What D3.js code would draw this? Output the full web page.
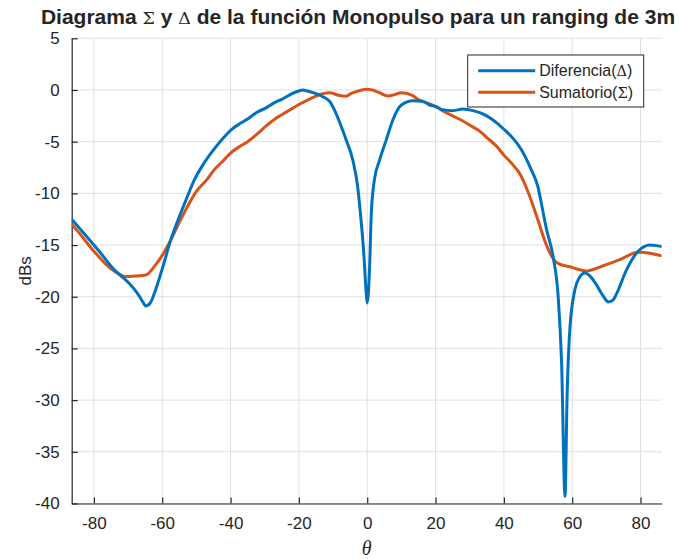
<!DOCTYPE html>
<html lang="es">
<head>
<meta charset="UTF-8">
<title>Diagrama Σ y Δ - Monopulso</title>
<script src="https://d3js.org/d3.v7.min.js"></script>
<style>
  body { margin: 0; background: #fff; overflow: hidden; }
  text { font-family: "Liberation Sans", Arial, Helvetica, sans-serif; fill: #262626; }
</style>
</head>
<body>
<script>
// Diferencia (Δ): ángulo en grados y nivel en dB
const thetaDelta = [-86.5, -84.4, -80, -77, -74.6, -72, -69.7, -67, -65.5, -64.8, -63.5, -61.9, -60, -57.5, -55, -53, -50.6, -48, -45, -42, -40, -37, -35, -32, -30, -27, -25, -22, -20, -19, -17, -15, -13, -11, -9.5, -8.1, -6.2, -4.2, -2.8, -1.8, -1.0, -0.3, 0, 0.7, 1.2, 2.1, 3.6, 5.6, 7.5, 10, 13.4, 16.3, 18.3, 20, 22, 25, 28, 31, 35, 38, 40, 43, 45, 48, 50, 51, 52.5, 54.4, 55.9, 56.9, 57.9, 58.5, 59.3, 60.8, 62, 63.7, 65.5, 67.2, 69, 70.6, 72, 73, 75.9, 79.3, 82.8, 86.2];
const dbDelta = [-12.5, -13.3, -15.0, -16.2, -17.2, -18.0, -18.7, -19.8, -20.6, -20.9, -20.6, -19.3, -17.3, -14.5, -12.25, -10.6, -8.7, -7.2, -5.8, -4.6, -3.9, -3.2, -2.8, -2.1, -1.8, -1.2, -0.9, -0.35, -0.1, 0, -0.15, -0.35, -0.65, -1.1, -2.0, -3.1, -4.8, -6.8, -9.35, -12.6, -15.8, -19.6, -20.6, -17.1, -11.9, -8.7, -6.8, -4.8, -2.9, -1.45, -1.03, -1.1, -1.45, -1.6, -1.9, -2.0, -1.85, -2.0, -2.5, -3.2, -3.8, -4.8, -5.7, -7.7, -9.4, -11.0, -13.5, -16.1, -20.0, -26.4, -39.3, -29.7, -23.2, -19.3, -18.2, -17.7, -18.1, -18.9, -19.9, -20.5, -20.3, -19.7, -17.4, -15.6, -15.0, -15.15];

// Sumatorio (Σ)
const thetaSigma = [-86.5, -84.4, -80, -75, -72, -70.7, -68, -64.8, -61.9, -60, -57.5, -55, -52, -50, -47, -45, -42, -40, -37, -35, -32, -30, -27, -25, -22, -20, -17, -15, -13, -11, -8.5, -6.2, -4.5, -3.2, -1.5, -0.3, 1.5, 3.6, 6, 8, 10, 12.9, 15.3, 18.3, 20, 22, 25, 28, 30, 33, 35, 38, 40, 42, 45, 47, 50, 52, 54.4, 56, 59.3, 64.2, 69.1, 74, 79.3, 82.8, 86.2];
const dbSigma = [-13.0, -13.8, -15.6, -17.3, -17.9, -18.05, -18.0, -17.9, -16.9, -16.0, -14.5, -12.8, -10.9, -9.8, -8.7, -7.8, -6.8, -6.1, -5.4, -5.0, -4.2, -3.6, -2.8, -2.4, -1.8, -1.4, -0.9, -0.6, -0.35, -0.26, -0.5, -0.6, -0.3, -0.16, 0, 0.07, 0, -0.26, -0.58, -0.45, -0.26, -0.48, -0.97, -1.35, -1.6, -2.0, -2.5, -3.0, -3.4, -4.0, -4.6, -5.5, -6.3, -7.0, -8.3, -9.8, -12.6, -14.6, -16.3, -16.8, -17.1, -17.5, -17.0, -16.4, -15.7, -15.8, -16.05];

const xTicks = [-80, -60, -40, -20, 0, 20, 40, 60, 80];
const yTicks = [5, 0, -5, -10, -15, -20, -25, -30, -35, -40];

const width = 683, height = 559;
const margin = { top: 38.3, right: 21.3, bottom: 55.5, left: 71.7 };
const innerW = width - margin.left - margin.right;
const innerH = height - margin.top - margin.bottom;

const x = d3.scaleLinear().domain([-86.5, 86.2]).range([0, innerW]);
const y = d3.scaleLinear().domain([-40, 5]).range([innerH, 0]);

const svg = d3.select("body").append("svg")
  .attr("width", width).attr("height", height)
  .style("background", "#fff");

const g = svg.append("g").attr("transform", `translate(${margin.left},${margin.top})`);

// rejilla
g.append("g").selectAll("line").data(xTicks).join("line")
  .attr("x1", d => x(d)).attr("x2", d => x(d))
  .attr("y1", 0).attr("y2", innerH)
  .attr("stroke", "#e0e0e0").attr("stroke-width", 1);
g.append("g").selectAll("line").data(yTicks).join("line")
  .attr("x1", 0).attr("x2", innerW)
  .attr("y1", d => y(d)).attr("y2", d => y(d))
  .attr("stroke", "#e0e0e0").attr("stroke-width", 1);

// ejes con marcas hacia dentro
const fmt = d => String(d);
const xAxis = g.append("g").attr("transform", `translate(0,${innerH})`)
  .call(d3.axisBottom(x).tickValues(xTicks).tickFormat(fmt).tickSizeInner(-6).tickSizeOuter(0).tickPadding(13));
const yAxis = g.append("g")
  .call(d3.axisLeft(y).tickValues(yTicks).tickFormat(fmt).tickSizeInner(-6).tickSizeOuter(0).tickPadding(12));

[xAxis, yAxis].forEach(ax => {
  ax.select(".domain").attr("stroke", "#262626").attr("stroke-width", 1.2);
  ax.selectAll(".tick line").attr("stroke", "#262626").attr("stroke-width", 1.2);
  ax.selectAll(".tick text")
    .attr("font-size", 17)
    .attr("font-family", "Liberation Sans, Arial, sans-serif")
    .attr("fill", "#262626");
});

// curvas
const line = d3.line()
  .x(d => x(d[0])).y(d => y(d[1]))
  .curve(d3.curveMonotoneX);

const series = [
  { name: "Diferencia", sym: "Δ", color: "#0072BD", pts: d3.zip(thetaDelta, dbDelta) },
  { name: "Sumatorio", sym: "Σ", color: "#D95319", pts: d3.zip(thetaSigma, dbSigma) }
];

const clip = svg.append("defs").append("clipPath").attr("id", "clip");
clip.append("rect").attr("width", innerW).attr("height", innerH + 2).attr("y", -1);

g.append("g").attr("clip-path", "url(#clip)")
  .selectAll("path").data(series.slice().reverse()).join("path")
  .attr("d", d => line(d.pts))
  .attr("fill", "none")
  .attr("stroke", d => d.color)
  .attr("stroke-width", 3)
  .attr("stroke-linejoin", "round");

// título
const title = svg.append("text")
  .attr("x", 358).attr("y", 24)
  .attr("text-anchor", "middle")
  .attr("font-size", 21)
  .attr("font-weight", "bold");
title.append("tspan").text("Diagrama ");
title.append("tspan").attr("font-weight", "normal").attr("font-family", "DejaVu Serif, serif").attr("font-size", 17.5).text("Σ");
title.append("tspan").text(" y ");
title.append("tspan").attr("font-weight", "normal").attr("font-family", "DejaVu Serif, serif").attr("font-size", 17.5).text("Δ");
title.append("tspan").text(" de la función Monopulso para un ranging de 3m");

// etiquetas de ejes
svg.append("text")
  .attr("transform", `translate(31,${margin.top + innerH / 2}) rotate(-90)`)
  .attr("text-anchor", "middle")
  .attr("font-size", 17)
  .text("dBs");

svg.append("text")
  .attr("x", margin.left + innerW / 2).attr("y", 555)
  .attr("text-anchor", "middle")
  .attr("font-size", 20)
  .attr("font-style", "italic")
  .style("font-family", "Liberation Serif, Times New Roman, serif")
  .text("θ");

// leyenda
const legend = svg.append("g").attr("transform", "translate(467.7,55)");
legend.append("rect")
  .attr("width", 176).attr("height", 52)
  .attr("fill", "#fff").attr("stroke", "#262626").attr("stroke-width", 1);
series.forEach((s, i) => {
  const yy = 15.7 + i * 21.6;
  legend.append("line")
    .attr("x1", 10.5).attr("x2", 67.5).attr("y1", yy).attr("y2", yy)
    .attr("stroke", s.color).attr("stroke-width", 3);
  const t = legend.append("text")
    .attr("x", 71.5).attr("y", yy + 5.5)
    .attr("font-size", 16);
  t.append("tspan").text(s.name + "(");
  t.append("tspan").attr("font-family", "DejaVu Serif, serif").attr("font-size", 14.5).text(s.sym);
  t.append("tspan").text(")");
});
</script>
</body>
</html>
